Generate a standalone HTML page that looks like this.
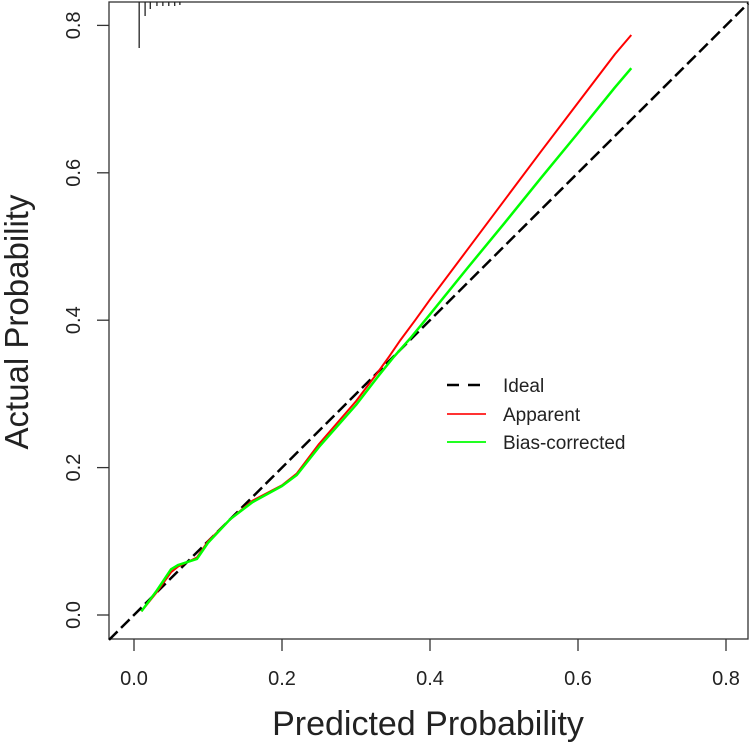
<!DOCTYPE html>
<html><head><meta charset="utf-8"><style>
body{margin:0;background:#fff;}
svg{display:block;font-family:"Liberation Sans",Arial,sans-serif;}
</style></head><body>
<svg id="chart" width="750" height="747" viewBox="0 0 750 747">
<g id="plot"></g>
</svg>
<script>
const xTicks=[0,0.2,0.4,0.6,0.8];
const yTicks=[0,0.2,0.4,0.6,0.8];
const tickLabels=["0.0","0.2","0.4","0.6","0.8"];
const apparentX=[0.01,0.03,0.05,0.06,0.085,0.1,0.13,0.16,0.2,0.22,0.25,0.3,0.33,0.345,0.36,0.38,0.4,0.45,0.5,0.55,0.6,0.65,0.672];
const apparentY=[0.005,0.03,0.058,0.066,0.078,0.1,0.13,0.155,0.176,0.192,0.232,0.29,0.33,0.351,0.373,0.4,0.428,0.495,0.562,0.629,0.695,0.761,0.787];
const biasX=[0.01,0.03,0.05,0.06,0.085,0.1,0.13,0.16,0.2,0.22,0.25,0.3,0.33,0.35,0.373,0.4,0.45,0.5,0.55,0.6,0.65,0.672];
const biasY=[0.005,0.032,0.062,0.068,0.076,0.098,0.13,0.153,0.175,0.19,0.228,0.285,0.324,0.349,0.375,0.408,0.47,0.531,0.593,0.654,0.716,0.742];
const rugX=[0.007,0.015,0.022,0.031,0.039,0.047,0.055,0.062];
const rugLen=[46,14,7,4,4,4,4,3];
const X0=109,X1=748,Y0=639,Y1=2;
const sx=v=>134+v*740;
const sy=v=>615-v*737;
const g=document.getElementById('plot');
const NS='http://www.w3.org/2000/svg';
function mk(tag,attrs,parent){const e=document.createElementNS(NS,tag);for(const k in attrs)e.setAttribute(k,attrs[k]);(parent||g).appendChild(e);return e;}
let e;
e=mk('rect',{x:X0,y:Y1,width:X1-X0,height:Y0-Y1,fill:'none',stroke:'#333','stroke-width':1.3});


xTicks.forEach((v,i)=>{
 e=mk('line',{x1:sx(v),x2:sx(v),y1:Y0,y2:Y0+12,stroke:'#333','stroke-width':1.3});
 
 
 e=mk('text',{x:sx(v),y:685,'font-size':20,'text-anchor':'middle',fill:'#222'});
 e.textContent=tickLabels[i];
 
 
});
yTicks.forEach((v,i)=>{
 e=mk('line',{x1:X0-12,x2:X0,y1:sy(v),y2:sy(v),stroke:'#333','stroke-width':1.3});
 
 
 e=mk('text',{x:80,y:sy(v),'font-size':20,'text-anchor':'middle',fill:'#222',transform:`rotate(-90 80 ${sy(v)})`});
 e.textContent=tickLabels[i];
 
 
});
rugX.forEach((v,i)=>{
 e=mk('line',{x1:sx(v),x2:sx(v),y1:Y1,y2:Y1+rugLen[i],stroke:'#222','stroke-width':1.3});
 
 
});
e=mk('line',{x1:X0,y1:sy((X0-134)/740),x2:sx(0.83),y2:sy(0.83),stroke:'#000','stroke-width':2.5,'stroke-dasharray':'12,5'});


e=mk('polyline',{points:apparentX.map((x,i)=>sx(x)+','+sy(apparentY[i])).join(' '),fill:'none',stroke:'#f00','stroke-width':2,'stroke-linejoin':'round'});


e=mk('polyline',{points:biasX.map((x,i)=>sx(x)+','+sy(biasY[i])).join(' '),fill:'none',stroke:'#0f0','stroke-width':2.5,'stroke-linejoin':'round'});


const leg=[['Ideal','#000','12,9',385],['Apparent','#f33','',414],['Bias-corrected','#2f2','',442]];
leg.forEach(l=>{
 e=mk('line',{x1:447,x2:486,y1:l[3],y2:l[3],stroke:l[1],'stroke-width':l[2]?2.5:2,'stroke-dasharray':l[2]||'none'});
 
 
 e=mk('text',{x:503,y:l[3]+7,'font-size':19,fill:'#222'});
 e.textContent=l[0];
 
 
});
e=mk('text',{x:428,y:735,'font-size':34,'text-anchor':'middle',fill:'#222'});
e.textContent='Predicted Probability';


e=mk('text',{x:28,y:322,'font-size':33,'text-anchor':'middle',fill:'#222',transform:'rotate(-90 28 322)'});
e.textContent='Actual Probability';


</script>
</body></html>
